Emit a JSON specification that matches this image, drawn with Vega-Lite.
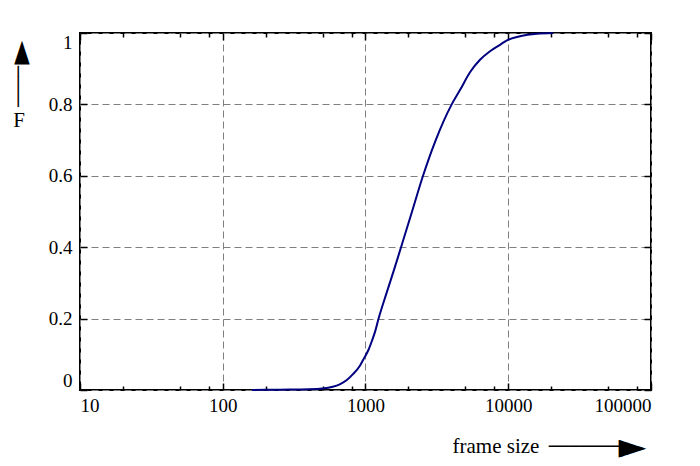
{
  "$schema": "https://vega.github.io/schema/vega-lite/v6.json",
  "width": 571,
  "height": 357,
  "autosize": "none",
  "padding": {"left": 80, "top": 33, "right": 49, "bottom": 76},
  "data": {
    "values": [
      {"size": 160, "F": 0.0},
      {"size": 250, "F": 0.001},
      {"size": 400, "F": 0.002},
      {"size": 500, "F": 0.004},
      {"size": 590, "F": 0.009},
      {"size": 660, "F": 0.016},
      {"size": 740, "F": 0.028},
      {"size": 820, "F": 0.045},
      {"size": 914, "F": 0.068},
      {"size": 980, "F": 0.09},
      {"size": 1048, "F": 0.112},
      {"size": 1110, "F": 0.138},
      {"size": 1170, "F": 0.165},
      {"size": 1235, "F": 0.2},
      {"size": 1400, "F": 0.27},
      {"size": 1600, "F": 0.342},
      {"size": 1774, "F": 0.4},
      {"size": 2119, "F": 0.5},
      {"size": 2529, "F": 0.6},
      {"size": 3105, "F": 0.7},
      {"size": 4018, "F": 0.8},
      {"size": 4590, "F": 0.84},
      {"size": 5395, "F": 0.89},
      {"size": 6340, "F": 0.925},
      {"size": 7450, "F": 0.949},
      {"size": 8750, "F": 0.967},
      {"size": 9960, "F": 0.981},
      {"size": 12080, "F": 0.991},
      {"size": 15880, "F": 0.998},
      {"size": 20560, "F": 1.0}
    ]
  },
  "layer": [
    {
      "mark": {"type": "line", "color": "#000080", "strokeWidth": 2, "interpolate": "monotone"},
      "encoding": {
        "x": {
          "field": "size", "type": "quantitative",
          "scale": {"type": "log", "domain": [10, 100000], "nice": false},
          "axis": {
            "orient": "bottom", "values": [10, 100, 1000, 10000, 100000], "format": "d",
            "labelFlush": true, "labelFlushOffset": 0, "labelPadding": 6,
            "ticks": false, "domain": false,
            "grid": true, "gridDash": [7, 4], "gridColor": "#7f7f7f", "gridWidth": 1,
            "title": "frame size", "titleX": 372, "titleY": 62,
            "titleAlign": "left", "titleBaseline": "alphabetic"
          }
        },
        "y": {
          "field": "F", "type": "quantitative",
          "scale": {"domain": [0, 1], "nice": false},
          "axis": {
            "orient": "left", "values": [0, 0.2, 0.4, 0.6, 0.8, 1], "format": "~g",
            "labelFlush": true, "labelFlushOffset": 0, "labelPadding": 8,
            "ticks": false, "domain": false,
            "grid": true, "gridDash": [7, 4], "gridColor": "#7f7f7f", "gridWidth": 1,
            "title": "F", "titleAngle": 0, "titleX": -61.5, "titleY": 87,
            "titleAlign": "center", "titleBaseline": "middle"
          }
        }
      }
    },
    {
      "mark": {"type": "line", "opacity": 0},
      "encoding": {
        "x": {
          "field": "size", "type": "quantitative",
          "axis": {
            "orient": "bottom",
            "values": [10, 20, 50, 80, 100, 200, 500, 800, 1000, 2000, 5000, 8000, 10000, 20000, 50000, 80000, 100000],
            "labels": false, "grid": false, "domain": false,
            "tickColor": "black", "tickWidth": 1.5,
            "tickSize": {"condition": {"test": "abs(log(datum.value)/LN10 - round(log(datum.value)/LN10)) < 0.01", "value": -7}, "value": -4},
            "title": "───────", "titleX": 540, "titleY": 56,
            "titleAlign": "right", "titleBaseline": "middle",
            "titleFont": "DejaVu Sans", "titleFontSize": 17
          }
        },
        "y": {
          "field": "F", "type": "quantitative",
          "axis": {
            "orient": "left", "values": [0, 0.2, 0.4, 0.6, 0.8, 1],
            "labels": false, "grid": false, "domain": false,
            "tickColor": "black", "tickWidth": 1.5, "tickSize": -7,
            "title": "────", "titleAngle": 270, "titleX": -61.5, "titleY": 53,
            "titleAlign": "center", "titleBaseline": "middle",
            "titleFont": "DejaVu Sans", "titleFontSize": 17
          }
        }
      }
    },
    {
      "mark": {"type": "line", "opacity": 0},
      "encoding": {
        "x": {
          "field": "size", "type": "quantitative",
          "axis": {
            "orient": "top",
            "values": [10, 20, 50, 80, 100, 200, 500, 800, 1000, 2000, 5000, 8000, 10000, 20000, 50000, 80000, 100000],
            "labels": false, "grid": false, "domain": false,
            "tickColor": "black", "tickWidth": 1.5,
            "tickSize": {"condition": {"test": "abs(log(datum.value)/LN10 - round(log(datum.value)/LN10)) < 0.01", "value": -7}, "value": -4},
            "title": "►", "titleX": 538, "titleY": 413,
            "titleAlign": "left", "titleBaseline": "middle",
            "titleFont": "DejaVu Sans", "titleFontSize": 36
          }
        },
        "y": {
          "field": "F", "type": "quantitative",
          "axis": {
            "orient": "right", "values": [0, 0.2, 0.4, 0.6, 0.8, 1],
            "labels": false, "grid": false, "domain": false,
            "tickColor": "black", "tickWidth": 1.5, "tickSize": -7,
            "title": "►", "titleAngle": 270, "titleX": -631, "titleY": 19,
            "titleAlign": "center", "titleBaseline": "middle",
            "titleFont": "DejaVu Sans", "titleFontSize": 31
          }
        }
      }
    }
  ],
  "resolve": {"axis": {"x": "independent", "y": "independent"}},
  "config": {
    "font": "Liberation Serif, Times New Roman, serif",
    "view": {"stroke": "black", "strokeWidth": 2},
    "axis": {
      "labelFont": "Liberation Serif, Times New Roman, serif", "labelFontSize": 19, "labelColor": "black",
      "titleFont": "Liberation Serif, Times New Roman, serif", "titleFontSize": 21, "titleFontWeight": "normal", "titleColor": "black"
    }
  }
}
